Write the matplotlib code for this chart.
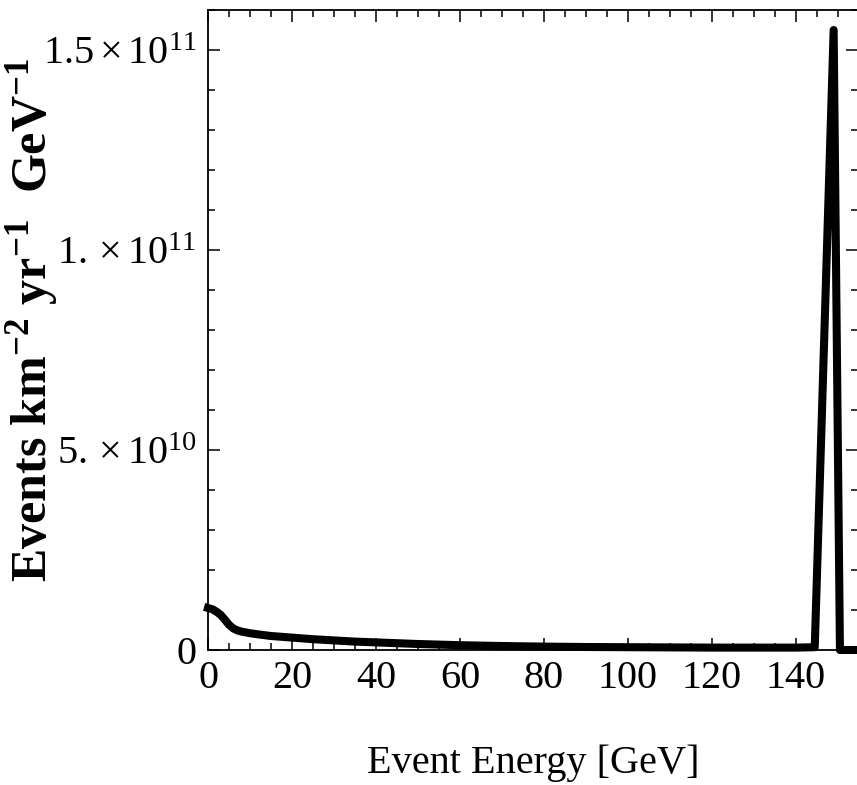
import numpy as np
import matplotlib
matplotlib.use("Agg")
import matplotlib.pyplot as plt
from matplotlib.ticker import MultipleLocator

plt.rcParams["font.family"] = ["Liberation Serif", "DejaVu Serif"]
plt.rcParams["mathtext.fontset"] = "stix"
plt.rcParams["mathtext.default"] = "regular"

# event spectrum (energy in GeV, rate in events km^-2 yr^-1 GeV^-1)
energy = [0, 1, 2, 3, 4, 5, 6, 7, 8, 10, 12, 15, 20, 25, 30, 35, 40, 45, 50,
          60, 70, 80, 90, 100, 110, 120, 130, 140, 144.5, 149, 150.5, 156]
rate_e9 = [10.5, 10.2, 9.6, 8.8, 7.6, 6.3, 5.4, 4.9, 4.6, 4.2, 3.9, 3.5, 3.1,
           2.7, 2.4, 2.1, 1.9, 1.7, 1.5, 1.2, 1.0, 0.85, 0.75, 0.7, 0.65, 0.6,
           0.6, 0.6, 0.7, 155, 0, 0]
rate = np.array(rate_e9) * 1e9

ytick_vals = [0, 5e10, 1e11, 1.5e11]
ytick_text = ["0", r"$5.\times10^{10}$", r"$1.\times10^{11}$", r"$1.5\times10^{11}$"]

fig = plt.figure(figsize=(8.57, 7.85), dpi=100)
ax = fig.add_axes([208 / 857, 135 / 785, 650 / 857, 640 / 785])

ax.plot(energy, rate, color="black", lw=5.8, clip_on=False)

ax.set_xlim(0, 154.8)
ax.set_ylim(0, 1.6e11)

ax.xaxis.set_major_locator(MultipleLocator(20))
ax.xaxis.set_minor_locator(MultipleLocator(5))
ax.set_yticks(ytick_vals)
ax.set_yticklabels(ytick_text)
ax.yaxis.set_minor_locator(MultipleLocator(1e10))

ax.tick_params(which="both", direction="in", top=True, right=True, width=1.1,
               labelsize=29)
ax.tick_params(which="major", length=8.5)
ax.tick_params(which="minor", length=5)
ax.tick_params(axis="x", pad=7)
ax.tick_params(axis="y", pad=8)
for s in ax.spines.values():
    s.set_linewidth(1.3)

ax.set_xlabel("Event Energy [GeV]", fontsize=29)
ax.xaxis.set_label_coords(0.5, -0.148)
ax.set_ylabel(r"Events km$^{-2}$ yr$^{-1}$  GeV$^{-1}$", fontsize=36,
              fontweight="bold")
ax.yaxis.set_label_coords(-0.228, 0.516)

fig.savefig("out.png", dpi=100)
